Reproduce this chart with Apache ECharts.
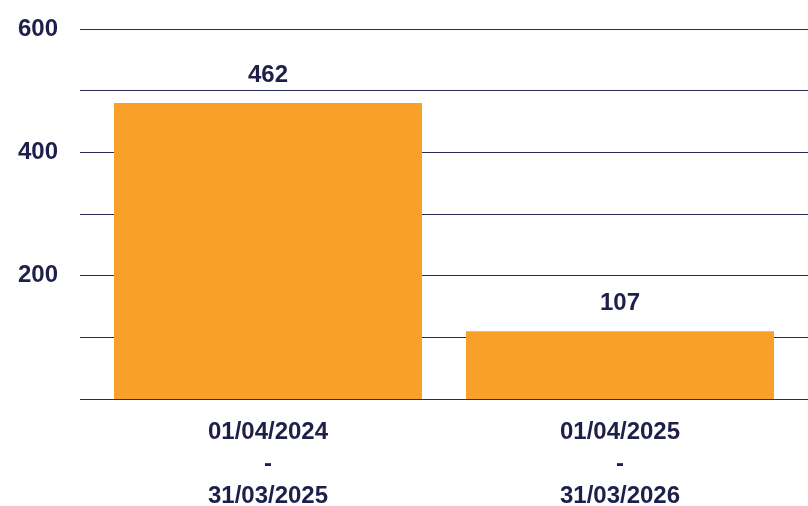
<!DOCTYPE html>
<html>
<head>
<meta charset="utf-8">
<script src="https://cdn.jsdelivr.net/npm/echarts@6/dist/echarts.min.js"></script>
<style>
html,body{margin:0;padding:0;background:#fff;}
#chart{width:808px;height:506px;}
</style>
</head>
<body>
<div id="chart"></div>
<script>
// Data
var categories = ['01/04/2024\n-\n31/03/2025', '01/04/2025\n-\n31/03/2026'];
var barHeights = [480, 110];          // bar heights as drawn in the reference
var barLabels = ['462', '107'];       // values printed above the bars
var yTicks = [0, 200, 400, 600];

var textColor = '#1e1f4b';
var fontFam = '"Liberation Sans", Arial, sans-serif';

var chart = echarts.init(document.getElementById('chart'));
chart.setOption({
  backgroundColor: '#ffffff',
  animation: false,
  grid: [
    {left: 80, right: 0, top: 29, bottom: 107, containLabel: false, outerBoundsMode: 'none'},
    {left: 92, right: 12, top: 29, bottom: 107, containLabel: false, outerBoundsMode: 'none'}
  ],
  xAxis: [
    {gridIndex: 0, type: 'category', data: categories, show: false},
    {
      gridIndex: 1, type: 'category', data: categories,
      axisLine: {show: false}, axisTick: {show: false},
      axisLabel: {
        color: textColor, fontSize: 24, fontWeight: 'bold', fontFamily: fontFam,
        lineHeight: 32, margin: 17, interval: 0
      }
    }
  ],
  yAxis: [
    {
      gridIndex: 0, type: 'value', min: 0, max: 600, interval: 100,
      axisLine: {show: false}, axisTick: {show: false},
      splitLine: {show: true, lineStyle: {color: '#2a2b58', width: 1}},
      axisLabel: {
        color: textColor, fontSize: 24, fontWeight: 'bold', fontFamily: fontFam, margin: 22,
        formatter: function (v) { return (yTicks.indexOf(v) > 0) ? String(v) : ''; }
      }
    },
    {gridIndex: 1, type: 'value', min: 0, max: 600, interval: 100, show: false, splitLine: {show: false}}
  ],
  series: [{
    type: 'bar',
    xAxisIndex: 1, yAxisIndex: 1,
    data: barHeights,
    barWidth: 308,
    itemStyle: {color: '#f9a02b'},
    label: {
      show: true, position: 'top', distance: 16,
      color: textColor, fontSize: 24, fontWeight: 'bold', fontFamily: fontFam,
      formatter: function (p) { return barLabels[p.dataIndex]; }
    }
  }]
});
</script>
</body>
</html>
